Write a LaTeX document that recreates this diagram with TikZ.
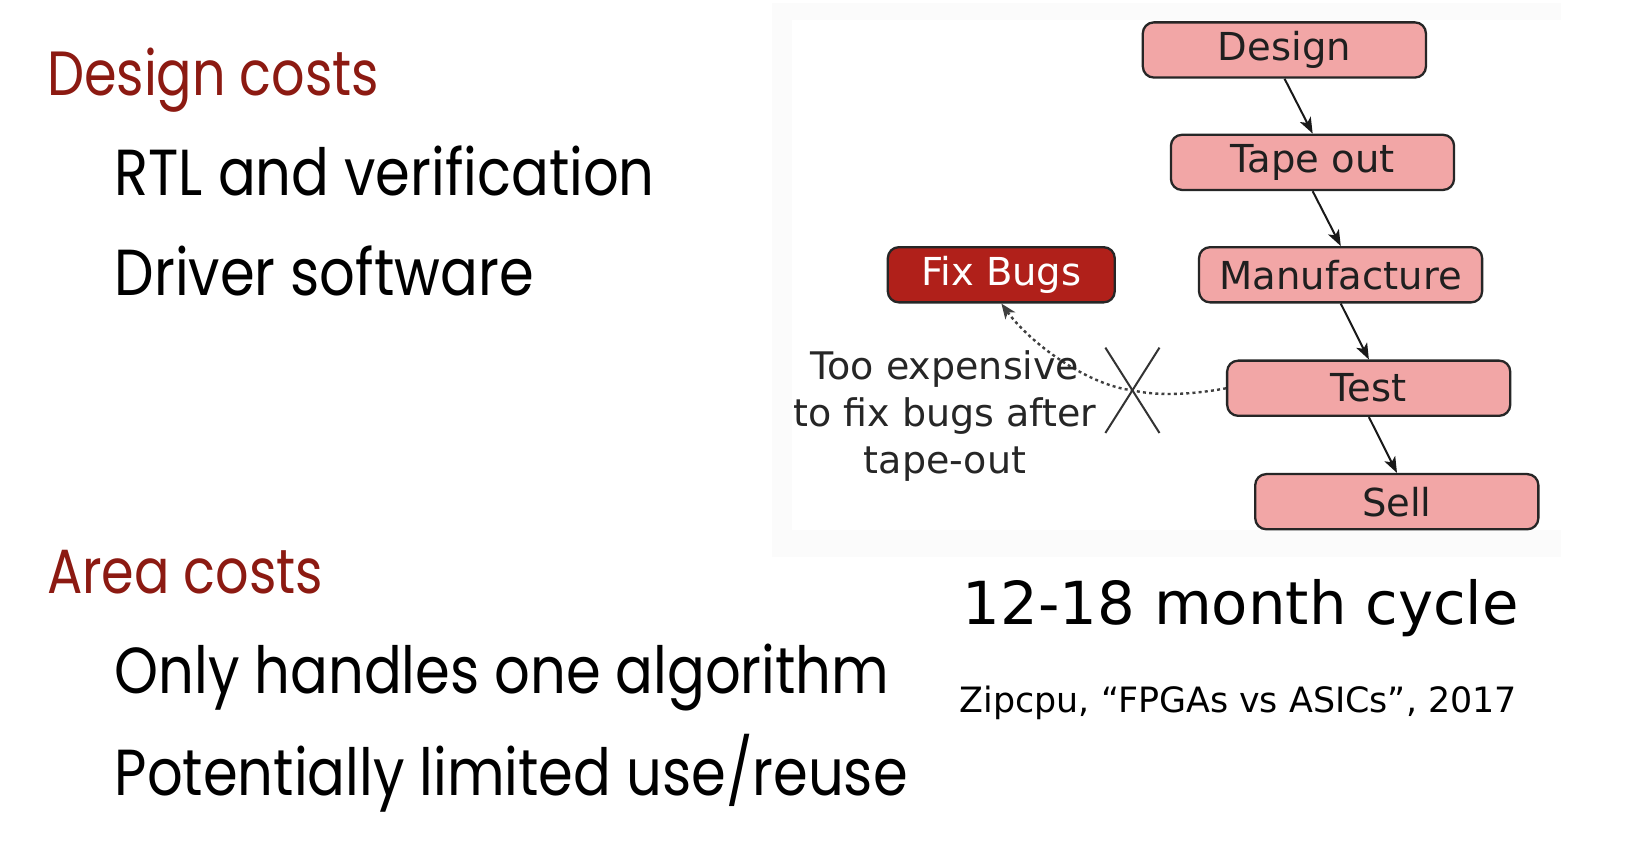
\documentclass[tikz,border=0pt]{standalone}
\usepackage{fontspec}
\usetikzlibrary{arrows.meta}
\newfontfamily\dejavu{DejaVu Sans}
\newfontfamily\geo[FakeStretch=0.84]{Poppins}
\newfontfamily\geoitem[FakeStretch=0.86]{Poppins}
\definecolor{headred}{HTML}{8C1A12}
\definecolor{pinkc}{HTML}{F2A6A6}
\definecolor{fixred}{HTML}{B0201A}
\definecolor{faint}{HTML}{FBFBFB}
\tikzset{
  stage/.style={draw=black!85, line width=2.3pt, fill=pinkc, rounded corners=11pt,
    minimum width=272pt, minimum height=53pt, inner sep=0pt,
    font=\dejavu\fontsize{37}{40}\selectfont, text=black!88},
  fixbox/.style={stage, fill=fixred, text=white, minimum width=218pt},
  flow/.style={line width=2pt, draw=black!90, -{Stealth[length=16pt,width=12pt,inset=4pt]}},
  dotflow/.style={line width=2.4pt, draw=black!75, dash pattern=on 3pt off 3.2pt,
    -{Stealth[length=15pt,width=12pt,inset=4pt]}},
  crossline/.style={line width=2pt, draw=black!80},
  heading/.style={anchor=base west, inner sep=0pt, text=headred, font=\geo\fontsize{60}{66}\selectfont},
  item/.style={anchor=base west, inner sep=0pt, text=black, font=\geoitem\fontsize{62.5}{68}\selectfont},
  note/.style={align=center, inner sep=0pt, text=black!85, font=\dejavu\fontsize{36.5}{45}\selectfont},
  big/.style={anchor=base west, inner sep=0pt, text=black, font=\dejavu\fontsize{57}{60}\selectfont},
  cite/.style={anchor=base west, inner sep=0pt, text=black, font=\dejavu\fontsize{33.5}{36}\selectfont},
}
\begin{document}
\begin{tikzpicture}[x=1pt,y=-1pt,scale=1.040816,every node/.append style={transform shape}]
\useasboundingbox (0,0) rectangle (1568,822.4);
\fill[white] (0,0) rectangle (1568,822.4);
% faint backdrop of the pasted figure
\fill[faint] (742,3) rectangle (1500,535);
\fill[white] (761,19) rectangle (1500,509);

% left text
\node[heading] (h1) at (45,92) {Design costs};
\node[item] (i1) at (110,188) {RTL and verification};
\node[item] (i2) at (110,284) {Driver software};
\node[heading] (h2) at (45,570) {Area costs};
\node[item] (i3) at (110,666) {Only handles one algorithm};
\node[item] (i4) at (110,764) {Potentially limited use/reuse};

% flow diagram
\node[stage] (design) at (1234,48) {Design};
\node[stage] (tape) at (1261,156) {Tape out};
\node[stage] (manu) at (1288,264) {Manufacture};
\node[stage] (test) at (1315,373) {Test};
\node[stage] (sell) at (1342,482) {Sell};
\node[fixbox] (fix) at (962,264) {Fix Bugs};

\draw[flow] (design.south) -- (tape.north);
\draw[flow] (tape.south) -- (manu.north);
\draw[flow] (manu.south) -- (test.north);
\draw[flow] (test.south) -- (sell.north);

\coordinate (xc) at (1088,375);
\draw[dotflow] (test.west) .. controls (1140,380) and (1110,380) .. (xc)
  .. controls (1045,370) and (990,330) .. (fix.south);
\draw[crossline] (1062,334) -- (1114,416);
\draw[crossline] (1114,334) -- (1062,416);

\node[note] (why) at (908,400) {Too expensive\\to fix bugs after\\tape-out};

\node[big] (cyc) at (925,600) {12-18 month cycle};
\node[cite] (src) at (922,685) {Zipcpu, “FPGAs vs ASICs”, 2017};
\end{tikzpicture}
\end{document}
